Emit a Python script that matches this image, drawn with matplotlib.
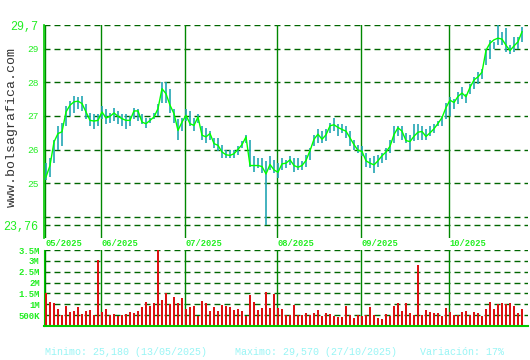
import numpy as np
import pandas as pd
import matplotlib
matplotlib.use("Agg")
import matplotlib.pyplot as plt
from matplotlib.transforms import blended_transform_factory

# daily data, 13/05/2025 .. 27/10/2025
close = [
    25.19, 25.53, 26.23, 26.48, 26.53, 27.12, 27.32, 27.42, 27.44, 27.37,
    27.12, 26.87, 26.85, 26.87, 27.12, 26.94, 26.99, 27.09, 26.99, 26.92,
    26.87, 26.87, 27.15, 27.15, 26.82, 26.77, 26.87, 26.97, 27.22, 27.81,
    27.66, 27.32, 27.07, 26.57, 26.82, 27.02, 26.77, 26.72, 26.97, 26.43,
    26.38, 26.48, 26.18, 26.13, 25.93, 25.85, 25.83, 25.88, 26.01, 26.15,
    26.38, 25.53, 25.53, 25.53, 25.50, 25.28, 25.56, 25.40, 25.33, 25.58,
    25.60, 25.70, 25.53, 25.48, 25.53, 25.68, 25.97, 26.31, 26.46, 26.31,
    26.44, 26.71, 26.74, 26.66, 26.60, 26.55, 26.35, 26.15, 25.98, 25.95,
    25.67, 25.60, 25.55, 25.67, 25.82, 25.93, 26.10, 26.45, 26.65, 26.55,
    26.27, 26.24, 26.40, 26.52, 26.54, 26.39, 26.50, 26.62, 26.78, 26.95,
    27.25, 27.47, 27.40, 27.58, 27.68, 27.57, 27.85, 28.07, 28.16, 28.30,
    28.95, 29.16, 29.26, 29.31, 29.28, 29.10, 28.94, 29.08, 29.20, 29.50,
]
high = [
    25.60, 25.75, 26.30, 26.70, 26.80, 27.30, 27.45, 27.60, 27.55, 27.60,
    27.35, 27.10, 27.05, 27.05, 27.30, 27.20, 27.10, 27.25, 27.15, 27.05,
    27.05, 27.00, 27.25, 27.20, 27.05, 26.95, 26.95, 27.10, 27.35, 28.00,
    28.00, 27.80, 27.20, 26.90, 26.95, 27.20, 27.15, 26.95, 27.05, 26.70,
    26.65, 26.55, 26.35, 26.35, 26.15, 26.00, 26.00, 26.00, 26.10, 26.25,
    26.45, 26.30, 25.80, 25.75, 25.75, 25.65, 25.80, 25.70, 25.60, 25.75,
    25.70, 25.80, 25.75, 25.75, 25.65, 25.85, 26.05, 26.45, 26.60, 26.55,
    26.60, 26.80, 26.95, 26.75, 26.75, 26.70, 26.55, 26.30, 26.15, 26.10,
    25.90, 25.75, 25.80, 25.85, 25.90, 26.05, 26.30, 26.70, 26.70, 26.70,
    26.50, 26.45, 26.75, 26.75, 26.70, 26.60, 26.70, 26.75, 26.85, 27.00,
    27.40, 27.55, 27.50, 27.72, 27.85, 27.65, 27.95, 28.15, 28.30, 28.38,
    29.00, 29.25, 29.20, 29.70, 29.50, 29.60, 29.10, 29.35, 29.35, 29.65,
]
low = [
    25.10, 25.20, 25.60, 26.00, 26.10, 26.70, 27.00, 27.10, 27.20, 27.15,
    26.90, 26.70, 26.60, 26.70, 26.90, 26.75, 26.80, 26.85, 26.75, 26.70,
    26.60, 26.70, 26.90, 26.85, 26.75, 26.65, 26.80, 26.90, 27.00, 27.40,
    27.40, 27.10, 26.80, 26.30, 26.55, 26.85, 26.70, 26.55, 26.80, 26.30,
    26.20, 26.30, 26.05, 25.95, 25.75, 25.75, 25.75, 25.75, 25.85, 26.05,
    26.20, 25.50, 25.35, 25.45, 25.30, 23.78, 25.40, 25.30, 25.15, 25.40,
    25.45, 25.55, 25.35, 25.40, 25.40, 25.50, 25.70, 26.10, 26.20, 26.20,
    26.25, 26.50, 26.55, 26.40, 26.50, 26.35, 26.10, 26.00, 25.90, 25.80,
    25.50, 25.45, 25.30, 25.50, 25.60, 25.70, 25.90, 26.20, 26.40, 26.30,
    26.20, 26.00, 26.25, 26.30, 26.30, 26.30, 26.40, 26.50, 26.70, 26.70,
    26.90, 27.00, 27.20, 27.35, 27.50, 27.40, 27.65, 27.80, 27.95, 28.10,
    28.50, 28.70, 29.00, 29.10, 29.10, 28.90, 28.85, 28.90, 29.00, 29.20,
]
# volume in millions
volume = [
    1.51, 1.12, 1.05, 0.78, 0.51, 0.92, 0.66, 0.71, 0.89, 0.55,
    0.71, 0.74, 0.51, 3.05, 0.63, 0.78, 0.51, 0.55, 0.46, 0.51,
    0.55, 0.66, 0.62, 0.71, 0.89, 1.12, 0.94, 1.05, 3.50, 1.20,
    1.51, 1.02, 1.35, 1.05, 1.28, 0.78, 0.89, 0.94, 0.46,
    1.15, 1.05, 0.71, 0.86, 0.71, 0.97, 0.92, 0.89, 0.74, 0.78,
    0.69, 0.46, 1.43, 1.11, 0.74, 0.83, 1.57, 0.83, 1.48, 0.83,
    0.77, 0.52, 0.52, 0.97, 0.52, 0.52, 0.60, 0.52, 0.60, 0.74,
    0.46, 0.60, 0.55, 0.46, 0.42, 0.42, 0.92, 0.52, 0.37, 0.52,
    0.46, 0.52, 0.88, 0.52, 0.37, 0.32, 0.55, 0.46, 0.92, 1.05,
    0.71, 1.05, 0.60, 0.52, 2.82, 0.52, 0.74, 0.66, 0.62, 0.62,
    0.46, 0.83, 0.66, 0.52, 0.52, 0.66, 0.71, 0.52, 0.66, 0.60,
    0.46, 0.78, 1.11, 0.78, 1.02, 1.05, 1.02, 1.05, 0.92, 0.60, 0.78,
]

price_ticks = [29.7, 29, 28, 27, 26, 25, 23.76]
price_tick_labels = ["29,7", "29", "28", "27", "26", "25", "23,76"]
price_grid = [29.7, 29, 28, 27, 26, 25, 24, 23.76]
vol_ticks = [0.5, 1, 1.5, 2, 2.5, 3, 3.5]
vol_tick_labels = ["500K", "1M", "1.5M", "2M", "2.5M", "3M", "3.5M"]
footer = ["Minimo: 25,180 (13/05/2025)", "Maximo: 29,570 (27/10/2025)", "Variación: 17%"]

GREEN_TXT = "#22ee22"
GRID = "#006600"
MONTH = "#008800"
MONO = "Liberation Mono"
W, H = 530, 360


def plot_chart(out="out.png"):
    dates = pd.bdate_range("2025-05-13", periods=len(close))
    x = np.arange(len(close))
    month_start = [0] + [i for i in range(1, len(dates)) if dates[i].month != dates[i - 1].month]
    month_labels = [dates[i].strftime("%m/%Y") for i in month_start]

    fig = plt.figure(figsize=(W / 100, H / 100), dpi=100)
    fig.patch.set_facecolor("white")

    ax_p = fig.add_axes([44 / W, 1 - 238 / H, 484 / W, 213 / H])
    ax_v = fig.add_axes([44 / W, 1 - 326 / H, 484 / W, 76 / H])

    # price panel
    ax_p.set_xlim(-0.5, 120.5)
    ax_p.set_ylim(29.7 - 213 / 33.7, 29.7)
    for g in price_grid:
        ax_p.axhline(g, color=GRID, lw=1.0, dashes=(4.3, 2.9), zorder=1)
    for m in month_start:
        ax_p.axvline(m - 0.25, color=MONTH, lw=1.0, zorder=1)
    ax_p.vlines(x, low, high, color="#22a6b4", lw=1.2, zorder=2)
    ax_p.plot(x, close, color="#00ff00", lw=1.0, zorder=3)
    ax_p.set_yticks(price_ticks)
    ax_p.set_yticklabels(price_tick_labels, family=MONO, color=GREEN_TXT)
    for t in ax_p.get_yticklabels():
        t.set_fontsize(8.5 if "," in t.get_text() else 6.8)
    ax_p.tick_params(axis="y", length=0, pad=4)
    ax_p.set_xticks([])
    for s in ["top", "right", "bottom"]:
        ax_p.spines[s].set_visible(False)
    ax_p.spines["left"].set_color("#00cc00")
    ax_p.spines["left"].set_linewidth(1.2)
    ax_p.set_facecolor("none")

    # volume panel
    ax_v.set_xlim(-0.5, 120.5)
    ax_v.set_ylim(0, 3.5)
    for g in vol_ticks:
        ax_v.axhline(g, color=GRID, lw=1.0, dashes=(4.3, 2.9), zorder=1)
    for m in month_start:
        ax_v.axvline(m - 0.25, color=MONTH, lw=1.0, zorder=1)
    ax_v.bar(x, volume, width=0.3, color="#dd1111", zorder=2)
    ax_v.set_yticks(vol_ticks)
    ax_v.set_yticklabels(vol_tick_labels, family=MONO, color=GREEN_TXT,
                         fontsize=6.5, fontweight="bold")
    ax_v.tick_params(axis="y", length=0, pad=3)
    ax_v.set_xticks([])
    for s in ["top", "right"]:
        ax_v.spines[s].set_visible(False)
    ax_v.spines["left"].set_color("#00cc00")
    ax_v.spines["bottom"].set_color("#00cc00")
    ax_v.spines["bottom"].set_linewidth(1.5)
    ax_v.set_facecolor("none")

    trans = blended_transform_factory(ax_v.transData, ax_v.transAxes)
    for m, lab in zip(month_start, month_labels):
        ax_v.text(m - 0.1, 1.02, lab, transform=trans, family=MONO, fontsize=6.3,
                  fontweight="bold", color=GREEN_TXT, ha="left", va="bottom")

    # watermark
    fig.text(12 / W, 1 - 127 / H, "www.bolsagrafica.com", rotation=90, family=MONO,
             fontsize=9.5, color="#333333", ha="center", va="center")

    # footer
    for xpix, txt in zip([45, 235, 420], footer):
        fig.text(xpix / W, 1 - 352 / H, txt, family=MONO, fontsize=7.2,
                 color="#99f5f5", ha="left", va="center")

    fig.savefig(out, dpi=100)


plot_chart()
